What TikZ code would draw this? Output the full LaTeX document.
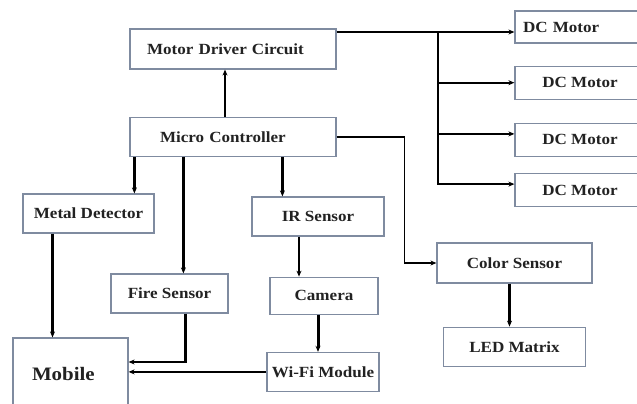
\documentclass[tikz,border=0pt]{standalone}
\usepackage{fontspec}
\setmainfont{Liberation Serif}[FakeStretch=1.1]
\usetikzlibrary{arrows.meta,positioning}
\definecolor{boxline}{HTML}{7F8BA0}
\definecolor{ink}{HTML}{222222}

\begin{document}
\begin{tikzpicture}[
    x=1pt, y=-1pt,
    >=Stealth,
    box/.style={rectangle, draw=boxline, line width=1.2pt, fill=white,
                minimum height=39pt, inner sep=0pt,
                align=center, text=ink,
                font=\fontsize{15.5}{18}\selectfont\bfseries},
    arr/.style={-{Stealth[length=6pt,width=5pt]}, line width=2.4pt},
    bus/.style={line width=2.4pt}
  ]
  \useasboundingbox (0,0) rectangle (637,404);
  \clip (0,0) rectangle (637,404);

  \node[box, text width=172pt, align=left, inner xsep=17pt, minimum height=40pt] (mdc) at (233,49) {Motor Driver Circuit};
  \node[box, text width=146pt, align=left, inner xsep=30pt, below=47pt of mdc] (mcu) {Micro Controller};

  \node[box, text width=114pt, align=left, inner xsep=8pt, minimum height=32pt] (dcone) at (580,27) {DC Motor};
  \node[box, minimum width=130pt, minimum height=33pt, below=22pt of dcone] (dctwo) {DC Motor};
  \node[box, minimum width=130pt, minimum height=33pt, below=23pt of dctwo] (dcthree) {DC Motor};
  \node[box, minimum width=130pt, minimum height=33pt, below=16pt of dcthree] (dcfour) {DC Motor};

  \node[box, minimum width=131pt] (metal) at (88.5,213.5) {Metal Detector};
  \node[box, minimum width=132pt] (ir) at (318,216.5) {IR Sensor};
  \node[box, minimum width=117pt] (fire) at (169.5,293.5) {Fire Sensor};
  \node[box, minimum width=108pt, minimum height=37pt, below=40pt of ir, xshift=6pt] (cam) {Camera};
  \node[box, minimum width=112pt, below=37pt of cam, xshift=-1pt] (wifi) {Wi-Fi Module};
  \node[box, minimum width=155pt, minimum height=40pt] (color) at (514.5,263) {Color Sensor};
  \node[box, minimum width=142pt, below=43pt of color] (led) {LED Matrix};
  \node[box, text width=77pt, align=left, inner xsep=19pt, minimum height=72pt,
        font=\fontsize{19}{22}\selectfont\bfseries] (mob) at (70.5,374) {Mobile};

  \draw[arr] ([xshift=-8pt]mcu.north) -- ([xshift=-8pt]mdc.south);
  \draw[arr] ([yshift=17pt]mdc.east) -- ([yshift=17pt]mdc.east -| dcone.west);
  \coordinate (split) at (438,32);
  \draw[bus] (split) -- ([yshift=6pt]dcfour.west -| split);
  \draw[arr] (split) |- (dctwo.west);
  \draw[arr] (split) |- ([yshift=6pt]dcthree.west);
  \draw[arr] (split) |- ([yshift=6pt]dcfour.west);

  \draw[arr] ([xshift=5pt]mcu.south west) -- ([xshift=5pt]mcu.south west |- metal.north);
  \draw[arr] ([xshift=54pt]mcu.south west) -- ([xshift=54pt]mcu.south west |- fire.north);
  \draw[arr] ([xshift=153pt]mcu.south west) -- ([xshift=153pt]mcu.south west |- ir.north);
  \draw[-{Stealth[length=6pt,width=5pt]}, line width=1.6pt] (mcu.east) -- ++(68pt,0) |- (color.west);

  \draw[arr] ([xshift=-19pt]ir.south) -- ([xshift=-19pt]ir.south |- cam.north);
  \draw[arr, line width=3pt] ([xshift=-6pt]cam.south) -- ([xshift=-6pt]cam.south |- wifi.north);
  \draw[arr] ([xshift=-5pt]color.south) -- ([xshift=-5pt]color.south |- led.north);

  \draw[arr] ([xshift=-36pt]metal.south) -- ([xshift=-36pt]metal.south |- mob.north);
  \draw[arr] ([xshift=16pt]fire.south) |- ([yshift=12pt]mob.east);
  \draw[arr] (wifi.west) -- (wifi.west -| mob.east);
\end{tikzpicture}
\end{document}
